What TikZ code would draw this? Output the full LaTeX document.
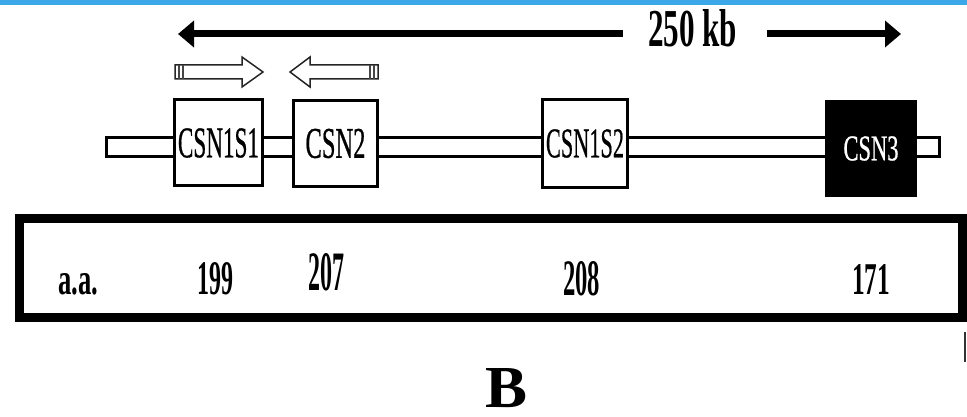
\documentclass[tikz,border=0pt]{standalone}
\usepackage{fontspec}
\setmainfont{Liberation Serif}
\newfontfamily\boxfont[FakeBold=0.8]{Liberation Serif}
\usetikzlibrary{arrows.meta}
\definecolor{topbar}{RGB}{60,168,232}
\definecolor{stripe}{RGB}{70,70,70}
\tikzset{
  gene/.style={draw=black, line width=3pt, fill=white, inner sep=0pt, font=\boxfont},
  genedark/.style={fill=black, inner sep=0pt, font=\boxfont},
  lbl/.style={inner sep=0pt, anchor=south west},
  bigarrow/.style={line width=7pt, line cap=butt, -{Triangle[length=16pt,width=26pt]}},
  hollow/.style={draw=black!85, line width=1.5pt, fill=white, line join=miter},
  stripes/.style={draw=stripe, line width=1.3pt}
}
\begin{document}
\begin{tikzpicture}[x=1pt,y=-1pt]
\useasboundingbox (0,0) rectangle (967,417);
\fill[white] (0,0) rectangle (967,417);
% top blue bar
\fill[topbar] (0,0) rectangle (967,5);

% big scale arrow
\coordinate (bigLtip) at (178,34);
\coordinate (bigLend) at (623,34);
\coordinate (bigRstart) at (767,34);
\coordinate (bigRtip) at (901,34);
\draw[bigarrow] (bigLend) -- (bigLtip);
\draw[bigarrow] (bigRstart) -- (bigRtip);
\node[lbl] (kb) at (648,47) {\resizebox{89pt}{37pt}{\textbf{250 kb}}};

% hollow orientation arrows
\draw[hollow] (175,65) -- (242,65) -- (242,57) -- (263,72) -- (242,87) -- (242,79) -- (175,79) -- cycle;
\draw[stripes] (179,65) -- (179,79) (183,65) -- (183,79);
\draw[hollow] (378,65) -- (310,65) -- (310,57) -- (290,72) -- (310,87) -- (310,79) -- (378,79) -- cycle;
\draw[stripes] (370,65) -- (370,79) (374,65) -- (374,79);

% chromosome band
\draw[line width=3pt, fill=white] (106.5,137.5) rectangle (939.5,156.5);

% genes
\node[gene, minimum width=88pt, minimum height=86pt] (csn1s1) at (218.5,143)
  {\resizebox{81pt}{29pt}{CSN1S1}};
\node[gene, minimum width=84pt, minimum height=86pt] (csn2) at (335.5,143.5)
  {\resizebox{60pt}{29pt}{CSN2}};
\node[gene, minimum width=85pt, minimum height=88pt] (csn1s2) at (585,143.5)
  {\resizebox{78pt}{28pt}{CSN1S2}};
\node[genedark, minimum width=92pt, minimum height=97pt] (csn3) at (871,148.5)
  {\resizebox{55pt}{24pt}{\color{white}CSN3}};

% amino acid table
\draw[line width=9pt] (19.5,218.5) rectangle (962.5,317.5);
\node[lbl] (aa) at (58,295) {\resizebox{40pt}{21pt}{\textbf{a.a.}}};
\node[lbl] (n199) at (197,295) {\resizebox{36pt}{32pt}{\textbf{199}}};
\node[lbl] (n207) at (308,291) {\resizebox{36pt}{37pt}{\textbf{207}}};
\node[lbl] (n208) at (563,296) {\resizebox{37pt}{34pt}{\textbf{208}}};
\node[lbl] (n171) at (852,295) {\resizebox{38pt}{30pt}{\textbf{171}}};

% stray mark at right edge
\draw[line width=2pt, black!80] (965,332) -- (965,362);

% panel letter
\node[lbl] (B) at (485,408) {\resizebox{42pt}{39pt}{\textbf{B}}};
\end{tikzpicture}
\end{document}
